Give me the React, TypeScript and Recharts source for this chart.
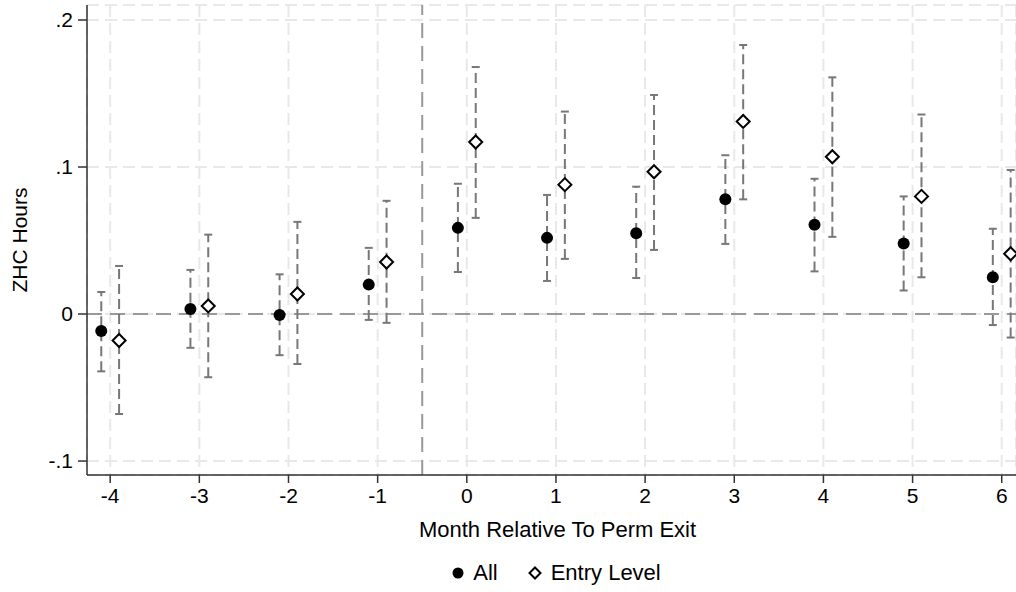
import React from 'react';
import {
  ComposedChart,
  Scatter,
  Line,
  XAxis,
  YAxis,
  CartesianGrid,
  ReferenceLine,
  Legend,
} from 'recharts';

const months = [-4, -3, -2, -1, 0, 1, 2, 3, 4, 5, 6];

const allCoef = [-0.0116, 0.0034, -0.0007, 0.020, 0.0586, 0.0518, 0.055, 0.078, 0.0607, 0.048, 0.025];
const allLo = [-0.039, -0.023, -0.028, -0.004, 0.0286, 0.0225, 0.0245, 0.0477, 0.029, 0.016, -0.0075];
const allHi = [0.015, 0.030, 0.027, 0.045, 0.0886, 0.081, 0.0866, 0.108, 0.092, 0.080, 0.058];

const entryCoef = [-0.018, 0.0055, 0.0136, 0.0354, 0.117, 0.088, 0.0968, 0.131, 0.107, 0.080, 0.041];
const entryLo = [-0.068, -0.043, -0.034, -0.006, 0.0654, 0.0375, 0.0436, 0.078, 0.0525, 0.025, -0.016];
const entryHi = [0.0327, 0.054, 0.0627, 0.077, 0.168, 0.1377, 0.149, 0.183, 0.161, 0.1357, 0.098];

const yTicks = [-0.1, 0, 0.1, 0.2];

const FONT = 'Arial, "Liberation Sans", sans-serif';
const CI_COLOR = '#777';

// small side offset so the two series sit either side of each month
const allData = months.map((m, i) => ({ x: m - 0.1, y: allCoef[i] }));
const entryData = months.map((m, i) => ({ x: m + 0.1, y: entryCoef[i] }));

const allCI = months.map((m, i) => [
  { x: m - 0.1, y: allLo[i] },
  { x: m - 0.1, y: allHi[i] },
]);
const entryCI = months.map((m, i) => [
  { x: m + 0.1, y: entryLo[i] },
  { x: m + 0.1, y: entryHi[i] },
]);

const fmtY = (v: number) => {
  if (v === 0) return '0';
  return v.toFixed(1).replace(/^(-?)0\./, '$1.');
};

const Dot = (props: any) => <circle cx={props.cx} cy={props.cy} r={6} fill="#000" />;

const Diamond = (props: any) => {
  const { cx, cy } = props;
  const s = 6.5;
  return (
    <path
      d={`M${cx},${cy - s}L${cx + s},${cy}L${cx},${cy + s}L${cx - s},${cy}Z`}
      fill="#fff"
      stroke="#000"
      strokeWidth={2}
    />
  );
};

const Cap = (props: any) => (
  <line
    key={`cap-${props.index}`}
    x1={props.cx - 4}
    x2={props.cx + 4}
    y1={props.cy}
    y2={props.cy}
    stroke={CI_COLOR}
    strokeWidth={2}
  />
);

const LegendBox = () => (
  <div
    style={{
      display: 'flex',
      justifyContent: 'center',
      alignItems: 'center',
      paddingLeft: 96,
      fontFamily: FONT,
      fontSize: 22,
      color: '#000',
    }}
  >
    <svg width={14} height={14} style={{ marginRight: 8 }}>
      <circle cx={7} cy={7} r={5.5} fill="#000" />
    </svg>
    <span style={{ marginRight: 30 }}>All</span>
    <svg width={14} height={14} style={{ marginRight: 9 }}>
      <path d="M7,1.5L12.5,7L7,12.5L1.5,7Z" fill="#fff" stroke="#000" strokeWidth={2} />
    </svg>
    <span>Entry Level</span>
  </div>
);

export default function App() {
  return (
    <div style={{ position: 'absolute', left: 0, top: 0, background: '#fff' }}>
      <ComposedChart width={1016} height={592} margin={{ top: 5, right: 0, bottom: 61, left: 0 }}>
        <CartesianGrid stroke="#e8e8e8" strokeWidth={2} strokeDasharray="12 6" />
        <XAxis
          type="number"
          dataKey="x"
          domain={[-4.26, 6.16]}
          ticks={months}
          allowDataOverflow
          stroke="#333"
          strokeWidth={1.5}
          tickSize={8}
          tick={{ fill: '#000', fontSize: 21, fontFamily: FONT }}
          tickMargin={5}
          label={{
            value: 'Month Relative To Perm Exit',
            position: 'insideBottom',
            offset: -32,
            dx: 6,
            fill: '#000',
            fontSize: 22,
            fontFamily: FONT,
          }}
        />
        <YAxis
          type="number"
          dataKey="y"
          domain={[-0.1095, 0.2102]}
          ticks={yTicks}
          allowDataOverflow
          width={87}
          stroke="#333"
          strokeWidth={1.5}
          tickSize={9}
          tickFormatter={fmtY}
          tick={{ fill: '#000', fontSize: 21, fontFamily: FONT }}
          tickMargin={5}
          label={{
            value: 'ZHC Hours',
            angle: -90,
            position: 'insideLeft',
            offset: 20,
            fill: '#000',
            fontSize: 21,
            fontFamily: FONT,
            style: { textAnchor: 'middle' },
          }}
        />
        <ReferenceLine y={0} stroke="#999" strokeWidth={2} strokeDasharray="15 8" />
        <ReferenceLine x={-0.5} stroke="#999" strokeWidth={2} strokeDasharray="15 8" />
        {allCI.map((seg, i) => (
          <Line
            key={`all-ci-${i}`}
            data={seg}
            dataKey="y"
            stroke={CI_COLOR}
            strokeWidth={2}
            strokeDasharray="10 5"
            dot={Cap}
            activeDot={false}
            legendType="none"
            isAnimationActive={false}
          />
        ))}
        {entryCI.map((seg, i) => (
          <Line
            key={`entry-ci-${i}`}
            data={seg}
            dataKey="y"
            stroke={CI_COLOR}
            strokeWidth={2}
            strokeDasharray="10 5"
            dot={Cap}
            activeDot={false}
            legendType="none"
            isAnimationActive={false}
          />
        ))}
        <Scatter name="All" data={allData} dataKey="y" shape={Dot} isAnimationActive={false} />
        <Scatter name="Entry Level" data={entryData} dataKey="y" shape={Diamond} isAnimationActive={false} />
        <Legend verticalAlign="bottom" align="center" wrapperStyle={{ bottom: 6 }} content={LegendBox} />
      </ComposedChart>
    </div>
  );
}
